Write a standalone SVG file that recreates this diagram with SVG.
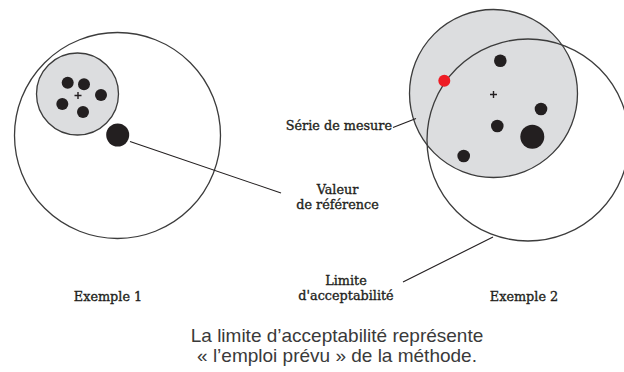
<svg xmlns="http://www.w3.org/2000/svg" width="624" height="372" viewBox="0 0 624 372">
<style>
.lim{fill:none;stroke:#3c3c3c;stroke-width:1.3}
.ser{fill:#dcdddf;stroke:#3c3c3c;stroke-width:1.3}
.dot{fill:#231f20}
.red{fill:#ee1c25}
.cr{stroke:#231f20;stroke-width:1.4;fill:none}
.conn{stroke:#231f20;stroke-width:1.1;fill:none}
.lbl{font-family:"DejaVu Serif","Liberation Serif",serif;font-size:12.8px;fill:#231f20;stroke:#231f20;stroke-width:0.35;text-anchor:middle}
.cap{font-family:"Liberation Sans",Arial,sans-serif;font-size:19px;fill:#3a3a3a;text-anchor:middle}
</style>
<rect width="624" height="372" fill="#ffffff"/>
<g id="exemple1">
<circle class="lim" cx="117.5" cy="135.5" r="103"/>
<circle class="ser" cx="77.5" cy="94" r="41"/>
<path class="cr" d="M74.5 95.5h7M78 92v7"/>
<circle class="dot" cx="67.7" cy="82.7" r="6"/>
<circle class="dot" cx="84" cy="84.3" r="6"/>
<circle class="dot" cx="101" cy="95" r="6"/>
<circle class="dot" cx="62.3" cy="104" r="6"/>
<circle class="dot" cx="83" cy="112" r="6"/>
<circle class="dot" cx="117.7" cy="135" r="11.5"/>
</g>
<g id="exemple2">
<circle class="ser" cx="493.5" cy="93.5" r="84"/>
<circle class="lim" cx="528" cy="140" r="101"/>
<path class="cr" d="M490 94.5h7M493.5 91v7"/>
<circle class="dot" cx="500.3" cy="60.7" r="6.3"/>
<circle class="red" cx="444.3" cy="80.7" r="6"/>
<circle class="dot" cx="541" cy="109" r="6.3"/>
<circle class="dot" cx="497.3" cy="126" r="6.3"/>
<circle class="dot" cx="532.3" cy="136.7" r="12"/>
<circle class="dot" cx="463.7" cy="156" r="6.3"/>
</g>
<g id="connectors">
<line class="conn" x1="130" y1="141.5" x2="281" y2="193"/>
<line class="conn" x1="393" y1="127.5" x2="416" y2="118.5"/>
<line class="conn" x1="403" y1="282" x2="493" y2="237"/>
</g>
<g id="labels">
<text class="lbl" x="392" y="130" style="text-anchor:end">Série de mesure</text>
<text class="lbl" x="337.5" y="194">Valeur</text>
<text class="lbl" x="337.5" y="209">de référence</text>
<text class="lbl" x="346" y="285">Limite</text>
<text class="lbl" x="346" y="300">d'acceptabilité</text>
<text class="lbl" x="108" y="301">Exemple 1</text>
<text class="lbl" x="524" y="301">Exemple 2</text>
</g>
<g id="caption">
<text class="cap" x="337" y="342">La limite d’acceptabilité représente</text>
<text class="cap" x="337" y="362">« l’emploi prévu » de la méthode.</text>
</g>
</svg>
